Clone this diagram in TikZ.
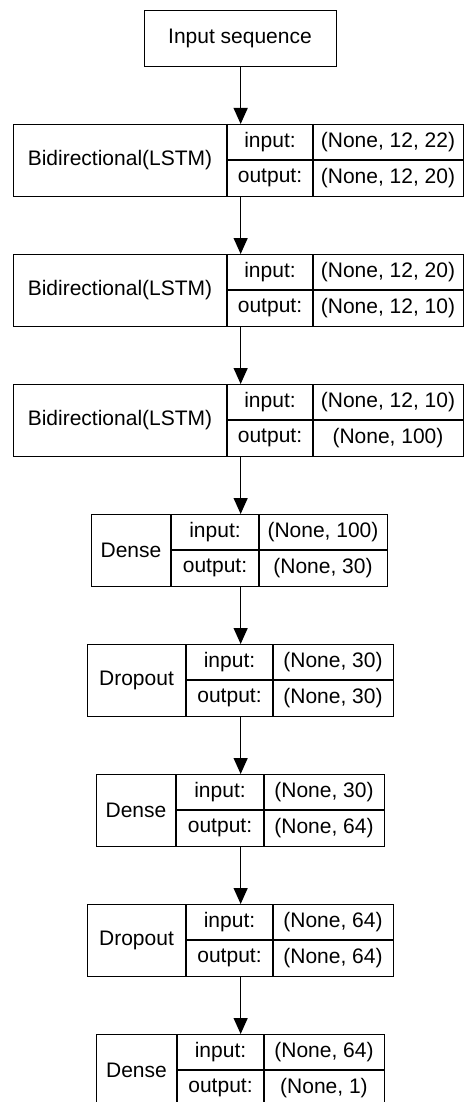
\documentclass[tikz,border=0pt]{standalone}
\usepackage{fontspec}
\setmainfont{Liberation Sans}
\usetikzlibrary{arrows.meta}
\tikzset{
  box/.style={draw, line width=1.3pt, inner sep=0pt, anchor=north west},
  divline/.style={line width=1.3pt},
  txt/.style={font=\fontsize{21}{25}\selectfont, inner sep=0pt},
  conn/.style={line width=1.3pt, -{Triangle[length=16pt,width=14pt]}}
}
% name, x0, x1, x2, x3, ytop, label, input, output
\newcommand\kerlayer[9]{%
  \node[box, minimum width={#5-#2}, minimum height=72] (#1) at (#2,#6) {};
  \draw[divline] (#3,#6) -- (#3,{#6+72});
  \draw[divline] (#4,#6) -- (#4,{#6+72});
  \draw[divline] (#3,{#6+36}) -- (#5,{#6+36});
  \node[txt] (#1-l) at ({(#2+#3)/2},{#6+36}) {#7};
  \node[txt] (#1-ik) at ({(#3+#4)/2},{#6+18}) {input:};
  \node[txt] (#1-ok) at ({(#3+#4)/2},{#6+54}) {output:};
  \node[txt] (#1-iv) at ({(#4+#5)/2},{#6+18}) {#8};
  \node[txt] (#1-ov) at ({(#4+#5)/2},{#6+54}) {#9};
}
\begin{document}
\begin{tikzpicture}[x=1pt,y=-1pt]
\useasboundingbox (0,0) rectangle (464,1102);
\fill[white] (0,0) rectangle (464,1102);
\node[box, minimum width=192, minimum height=56] (in) at (144,10) {};
\node[txt] (in-t) at (240,38) {Input sequence};
\kerlayer{l1}{13}{227}{313}{463}{124}{Bidirectional(LSTM)}{(None, 12, 22)}{(None, 12, 20)}
\kerlayer{l2}{13}{227}{313}{463}{254}{Bidirectional(LSTM)}{(None, 12, 20)}{(None, 12, 10)}
\kerlayer{l3}{13}{227}{313}{463}{384}{Bidirectional(LSTM)}{(None, 12, 10)}{(None, 100)}
\kerlayer{d1}{91}{171}{259}{387}{514}{Dense}{(None, 100)}{(None, 30)}
\kerlayer{r1}{87}{186}{273}{393}{644}{Dropout}{(None, 30)}{(None, 30)}
\kerlayer{d2}{96}{176}{264}{384}{774}{Dense}{(None, 30)}{(None, 64)}
\kerlayer{r2}{87}{186}{273}{393}{904}{Dropout}{(None, 64)}{(None, 64)}
\kerlayer{d3}{96}{177}{264}{384}{1034}{Dense}{(None, 64)}{(None, 1)}
\draw[conn] (in.south) -- (l1.north -| in.south);
\draw[conn] (l1.south -| in.south) -- (l2.north -| in.south);
\draw[conn] (l2.south -| in.south) -- (l3.north -| in.south);
\draw[conn] (l3.south -| in.south) -- (d1.north -| in.south);
\draw[conn] (d1.south -| in.south) -- (r1.north -| in.south);
\draw[conn] (r1.south -| in.south) -- (d2.north -| in.south);
\draw[conn] (d2.south -| in.south) -- (r2.north -| in.south);
\draw[conn] (r2.south -| in.south) -- (d3.north -| in.south);
\end{tikzpicture}
\end{document}
